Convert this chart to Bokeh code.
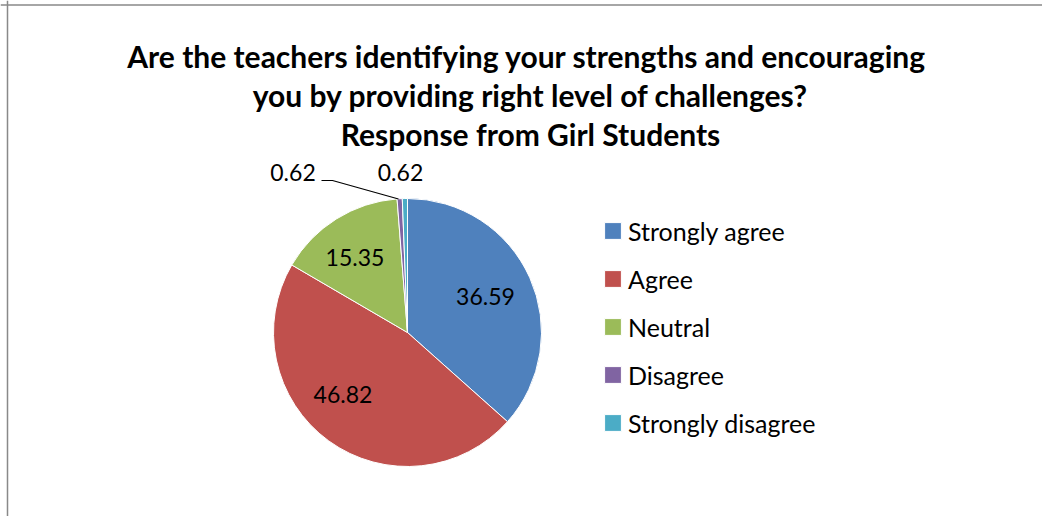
import math
from bokeh.plotting import figure
from bokeh.models import ColumnDataSource, Legend, LegendItem, Span
from bokeh.core.properties import value
from bokeh.embed import file_html
from bokeh.resources import INLINE

# ---- data ----
categories = ["Strongly agree", "Agree", "Neutral", "Disagree", "Strongly disagree"]
percentages = [36.59, 46.82, 15.35, 0.62, 0.62]
colors = ["#4F81BD", "#C0504D", "#9BBB59", "#8064A2", "#4BACC6"]
title_lines = [
    "Are  the teachers identifying your strengths and encouraging",
    "you by providing right level of challenges?",
    "Response from Girl Students",
]

# ---- layout (page pixels -> data units, 1 unit = 1 px) ----
W, H = 1042, 516
def px(X): return X
def py(Y): return H - Y

cx, cy, R = px(407), py(332), 134
# label centres (page px) as placed by the original chart
label_pos = [(485, 296), (342.5, 394), (354.5, 256.5), (292.5, 172), (400, 172)]

total = sum(percentages)
starts, ends = [], []
acc = 0.0
for v in percentages:
    a0 = math.pi / 2 - 2 * math.pi * acc / total
    acc += v
    a1 = math.pi / 2 - 2 * math.pi * acc / total
    starts.append(a0)
    ends.append(a1)

src = ColumnDataSource(dict(cat=categories, val=percentages, color=colors,
                            start=starts, end=ends,
                            x=[cx] * len(categories), y=[cy] * len(categories)))

p = figure(width=W, height=H, x_range=(0, W), y_range=(0, H),
           min_border=0, output_backend="svg", toolbar_location=None)
p.axis.visible = False
p.grid.visible = False
p.outline_line_color = None
p.background_fill_color = "white"
p.border_fill_color = "white"

wedges = p.wedge(x="x", y="y", radius=R, radius_units="screen",
                 start_angle="start", end_angle="end", direction="clock",
                 fill_color="color", line_color="white", line_width=1, source=src)

# labels
lab_src = ColumnDataSource(dict(
    x=[px(a) for a, b in label_pos], y=[py(b) for a, b in label_pos],
    t=["%.2f" % v for v in percentages]))
p.text(x="x", y="y", text="t", source=lab_src, text_align="center",
       text_baseline="middle", text_font=value("Lato"), text_font_size="23px",
       text_color="black")

# leader line for Disagree label
p.line(x=[px(321), px(332), px(398)], y=[py(180), py(180), py(198.5)],
       line_color="black", line_width=1.2)

# title
tsrc = ColumnDataSource(dict(x=[px(530)] * 3, y=[py(55), py(94), py(133)], t=title_lines))
p.text(x="x", y="y", text="t", source=tsrc, text_align="center",
       text_baseline="alphabetic", text_font=value("Lato"), text_font_size="30px",
       text_font_style="bold", text_color="black")

# frame lines (left & top)
p.add_layout(Span(location=px(7), dimension="height", line_color="#898989", line_width=1.5))
p.add_layout(Span(location=py(4.5), dimension="width", line_color="#898989", line_width=1.5))

items = [LegendItem(label=c, renderers=[wedges], index=i) for i, c in enumerate(categories)]
legend = Legend(items=items, location=(px(602), py(437.5)),
                glyph_width=21, glyph_height=21, label_height=30, spacing=18,
                label_standoff=5, padding=0, margin=0,
                border_line_color=None, background_fill_alpha=0,
                label_text_font="Lato", label_text_font_size="25px",
                label_text_color="black")
p.add_layout(legend)

open("out.html", "w").write(file_html(p, INLINE))
